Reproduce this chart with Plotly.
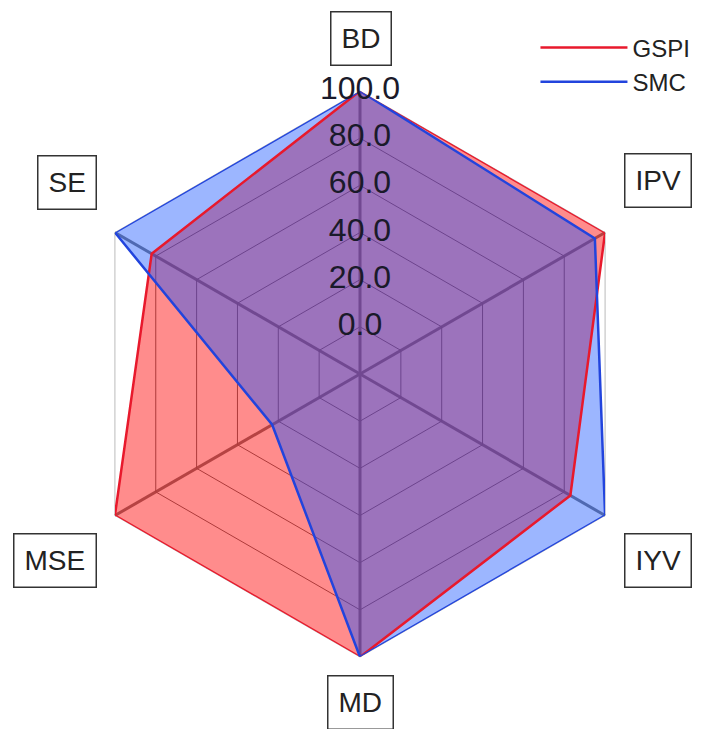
import plotly.graph_objects as go

categories = ["BD", "IPV", "IYV", "MD", "MSE", "SE"]
gspi = [100, 100, 83, 100, 100, 82]
smc = [100, 95, 100, 100, 23, 100]
radial_ticks = [0, 20, 40, 60, 80, 100]
tick_labels = [f"{v:.1f}" for v in radial_ticks]

# label box positions (paper coords)
label_pos = {
    "BD": (0.502, 1.092),
    "IPV": (1.027, 0.841),
    "IYV": (1.027, 0.171),
    "MD": (0.500, -0.080),
    "MSE": (-0.039, 0.171),
    "SE": (-0.018, 0.839),
}

FONT = "Liberation Sans, Arial, sans-serif"

def closed(v):
    return v + v[:1]

theta_c = closed(categories)

fig = go.Figure()
# fills
fig.add_trace(go.Scatterpolar(r=closed(gspi), theta=theta_c, fill="toself",
                              fillcolor="rgba(255,0,0,0.45)", line=dict(width=0),
                              mode="lines", showlegend=False, hoverinfo="skip"))
fig.add_trace(go.Scatterpolar(r=closed(smc), theta=theta_c, fill="toself",
                              fillcolor="rgba(20,80,255,0.42)", line=dict(width=0),
                              mode="lines", showlegend=False, hoverinfo="skip"))
# outlines
fig.add_trace(go.Scatterpolar(r=closed(gspi), theta=theta_c, mode="lines", name="GSPI",
                              line=dict(color="#e8192c", width=2.5)))
fig.add_trace(go.Scatterpolar(r=closed(smc), theta=theta_c, mode="lines", name="SMC",
                              line=dict(color="#2244dd", width=2.5)))
# radial tick labels (overlay polar with identical scale)
fig.add_trace(go.Scatterpolar(r=radial_ticks, theta=["BD"] * len(radial_ticks),
                              mode="text", subplot="polar2",
                              text=tick_labels, textposition="middle center",
                              textfont=dict(size=32, color="#1a1a2a", family=FONT),
                              showlegend=False, hoverinfo="skip"))

for cat in categories:
    x, y = label_pos[cat]
    fig.add_annotation(x=x, y=y, xref="paper", yref="paper", text=cat, showarrow=False,
                       font=dict(size=28, color="#222", family=FONT),
                       bordercolor="#333", borderwidth=1.5, borderpad=10, height=32,
                       bgcolor="white", xanchor="center", yanchor="middle")

fig.update_layout(
    width=701, height=729,
    margin=dict(l=69, r=66, t=83, b=80, autoexpand=False),
    paper_bgcolor="white", plot_bgcolor="white",
    font=dict(family=FONT),
    polar=dict(
        bgcolor="white",
        gridshape="linear",
        domain=dict(x=[0, 1], y=[0, 1]),
        radialaxis=dict(range=[-20, 100], tickvals=radial_ticks, showticklabels=False,
                        ticks="", showline=False, gridcolor="#6a6a6a", gridwidth=1.2,
                        angle=90, layer="below traces"),
        angularaxis=dict(categoryarray=categories, categoryorder="array",
                         direction="clockwise", rotation=90, showticklabels=False,
                         ticks="", gridcolor="#7a7a7a", gridwidth=3,
                         showline=True, linecolor="#bbbbbb", linewidth=1,
                         layer="below traces"),
    ),
    polar2=dict(
        bgcolor="rgba(0,0,0,0)",
        gridshape="circular",
        domain=dict(x=[0, 1], y=[0, 1]),
        radialaxis=dict(range=[-20, 100], showticklabels=False, ticks="",
                        showline=False, showgrid=False, angle=90),
        angularaxis=dict(categoryarray=categories, categoryorder="array",
                         direction="clockwise", rotation=90, showticklabels=False,
                         ticks="", showgrid=False, showline=False),
    ),
    legend=dict(x=0.810, y=1.116, xanchor="left", yanchor="top",
                font=dict(size=24, color="#222", family=FONT),
                itemwidth=87, bgcolor="rgba(0,0,0,0)", tracegroupgap=0),
)

fig.write_html("out.html")
